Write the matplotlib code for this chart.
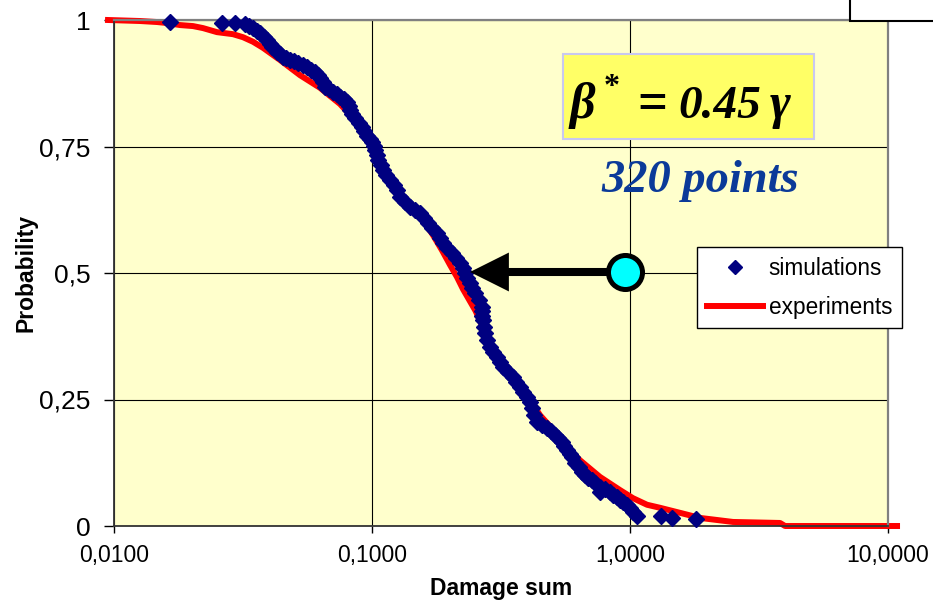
import matplotlib
matplotlib.use('Agg')
import matplotlib.pyplot as plt
from matplotlib.patches import Rectangle
from matplotlib.ticker import NullLocator

# simulated damage sums (sorted) and their exceedance probability
sim_x = [0.0165, 0.0262, 0.0294, 0.0322, 0.0334, 0.0346, 0.0357, 0.0368, 0.0380, 0.0392,
         0.0401, 0.0410, 0.0419, 0.0428, 0.0440, 0.0452, 0.0466, 0.0481, 0.0499, 0.0517,
         0.0538, 0.0560, 0.0580, 0.0601, 0.0615, 0.0629, 0.0643, 0.0657, 0.0681, 0.0706,
         0.0729, 0.0752, 0.0776, 0.0800, 0.0811, 0.0822, 0.0840, 0.0859, 0.0887, 0.0915,
         0.0935, 0.0956, 0.0978, 0.1000, 0.1014, 0.1027, 0.1041, 0.1055, 0.1079, 0.1103,
         0.1138, 0.1174, 0.1212, 0.1250, 0.1284, 0.1340, 0.1404, 0.1470, 0.1535, 0.1590,
         0.1648, 0.1715, 0.1786, 0.1835, 0.1884, 0.1960, 0.2042, 0.2115, 0.2193, 0.2245,
         0.2293, 0.2345, 0.2398, 0.2450, 0.2507, 0.2590, 0.2669, 0.2675, 0.2680, 0.2693,
         0.2715, 0.2742, 0.2800, 0.2867, 0.2955, 0.3051, 0.3130, 0.3220, 0.3370, 0.3520,
         0.3630, 0.3747, 0.3865, 0.3989, 0.4080, 0.4170, 0.4260, 0.4360, 0.4560, 0.4769,
         0.4940, 0.5122, 0.5280, 0.5450, 0.5570, 0.5700, 0.5830, 0.5959, 0.6121, 0.6320,
         0.6516, 0.6700, 0.6873, 0.7100, 0.7317, 0.7650, 0.7650, 0.8000, 0.8366, 0.8620,
         0.8904, 0.9150, 0.9395, 0.9700, 1.0000, 1.0300, 1.0640, 1.319, 1.455, 1.803]
sim_p = [0.996, 0.994, 0.994, 0.992, 0.988, 0.984, 0.979, 0.974, 0.967, 0.960,
         0.953, 0.947, 0.942, 0.937, 0.932, 0.927, 0.924, 0.921, 0.918, 0.915,
         0.911, 0.907, 0.902, 0.897, 0.891, 0.885, 0.877, 0.868, 0.863, 0.858,
         0.853, 0.848, 0.843, 0.838, 0.830, 0.822, 0.814, 0.806, 0.797, 0.789,
         0.781, 0.771, 0.765, 0.759, 0.751, 0.743, 0.733, 0.723, 0.713, 0.704,
         0.694, 0.684, 0.674, 0.664, 0.650, 0.640, 0.630, 0.625, 0.619, 0.609,
         0.599, 0.589, 0.579, 0.569, 0.559, 0.550, 0.540, 0.530, 0.520, 0.510,
         0.500, 0.490, 0.480, 0.470, 0.460, 0.447, 0.433, 0.424, 0.415, 0.407,
         0.394, 0.381, 0.367, 0.354, 0.344, 0.334, 0.324, 0.314, 0.304, 0.294,
         0.285, 0.275, 0.265, 0.255, 0.245, 0.233, 0.220, 0.206, 0.200, 0.194,
         0.187, 0.180, 0.173, 0.166, 0.158, 0.150, 0.143, 0.136, 0.125, 0.116,
         0.107, 0.101, 0.095, 0.090, 0.085, 0.077, 0.067, 0.073, 0.067, 0.062,
         0.057, 0.052, 0.047, 0.042, 0.036, 0.028, 0.020, 0.020, 0.016, 0.014]

# experimental curve
exp_x = [0.00948, 0.01262, 0.01468, 0.01605, 0.01803, 0.02024, 0.02213, 0.02507, 0.02891, 0.03162,
         0.03458, 0.03781, 0.04399, 0.05258, 0.06286, 0.07516, 0.0859, 0.0956, 0.1027, 0.1103,
         0.1195, 0.1342, 0.1535, 0.1723, 0.1867, 0.2006, 0.2135, 0.2253, 0.2520, 0.2720,
         0.2950, 0.322, 0.3583, 0.3989, 0.4479, 0.5122, 0.5751, 0.6398, 0.765, 0.9146,
         1.027, 1.164, 1.307, 1.563, 1.867, 2.507, 3.815, 3.99, 10.84]
exp_p = [1.0, 0.998, 0.996, 0.994, 0.990, 0.988, 0.984, 0.976, 0.972, 0.966,
         0.957, 0.945, 0.921, 0.891, 0.866, 0.834, 0.802, 0.769, 0.733, 0.708,
         0.680, 0.644, 0.613, 0.575, 0.545, 0.516, 0.492, 0.468, 0.425, 0.387,
         0.350, 0.324, 0.294, 0.259, 0.219, 0.186, 0.154, 0.130, 0.097, 0.071,
         0.055, 0.042, 0.036, 0.026, 0.016, 0.008, 0.006, 0.0, 0.0]

x_ticks = [0.01, 0.1, 1, 10]
x_tick_labels = ["0,0100", "0,1000", "1,0000", "10,0000"]
y_ticks = [0, 0.25, 0.5, 0.75, 1]
y_tick_labels = ["0", "0,25", "0,5", "0,75", "1"]

plt.rcParams['font.family'] = ['Liberation Sans', 'DejaVu Sans']

W, H = 933, 603


def fxy(px, py):
    # pixel position -> figure fraction
    return px / W, 1 - py / H


fig = plt.figure(figsize=(W / 100, H / 100), dpi=100)
ax = fig.add_axes([114 / W, 1 - 526 / H, (888 - 114) / W, (526 - 20) / H])
ax.set_facecolor('#FFFFCC')

ax.set_xscale('log')
ax.set_xlim(0.01, 10)
ax.set_ylim(0, 1)
ax.set_xticks(x_ticks, x_tick_labels)
ax.set_yticks(y_ticks, y_tick_labels)
ax.xaxis.set_minor_locator(NullLocator())
ax.tick_params(axis='x', labelsize=16.5, length=5, width=1, pad=8, direction='out')
ax.tick_params(axis='y', labelsize=19, length=7, width=1, pad=10, direction='out')
ax.grid(True, color='black', lw=0.8)
ax.set_axisbelow(True)

for side in ['top', 'right']:
    ax.spines[side].set_color('#808080')
    ax.spines[side].set_linewidth(1.6)
for side in ['left', 'bottom']:
    ax.spines[side].set_color('#333333')
    ax.spines[side].set_linewidth(1.3)

exp_line, = ax.plot(exp_x, exp_p, color='red', lw=4.3, label='experiments',
                    clip_on=False, zorder=2)
sim_pts, = ax.plot(sim_x, sim_p, ls='none', marker='D', ms=8.6, color='#000080',
                   label='simulations', clip_on=False, zorder=3)

ax.set_xlabel('Damage sum', fontsize=16.5, fontweight='bold', va='center')
ax.xaxis.set_label_coords(0.5, (526 - 589) / 506)
ax.set_ylabel('Probability', fontsize=16.5, fontweight='bold', va='center')
ax.yaxis.set_label_coords((26 - 114) / 774, 0.5)

leg = ax.legend([sim_pts, exp_line], ['simulations', 'experiments'],
                loc='upper left', bbox_to_anchor=fxy(697, 247),
                bbox_transform=fig.transFigure, borderaxespad=0,
                fontsize=16.3, handlelength=2.5, handletextpad=0.25,
                labelspacing=0.72, borderpad=0.42, fancybox=False,
                framealpha=1, edgecolor='black', markerscale=0.8)
leg.get_frame().set_linewidth(1)
leg.set_zorder(10)

# arrow from the circle to the curve at p = 0.5
ax.annotate('', xy=fxy(470, 272), xycoords='figure fraction',
            xytext=fxy(625, 272), textcoords='figure fraction',
            arrowprops=dict(width=5.8, headwidth=28, headlength=28, shrink=0,
                            facecolor='black', edgecolor='none'),
            zorder=6)
cx, cy = fxy(625, 272)
ax.plot([cx], [cy], marker='o', ms=24.5, mfc='#00FFFF', mec='black', mew=3.6,
        transform=fig.transFigure, clip_on=False, zorder=7)

# beta box
bx0, by0 = fxy(563, 139)
bx1, by1 = fxy(814, 54)
fig.add_artist(Rectangle((bx0, by0), bx1 - bx0, by1 - by0, transform=fig.transFigure,
                         facecolor='#FFFF66', edgecolor='#C8C8F0', lw=1.5))
serif = ['Liberation Serif', 'DejaVu Serif']
fig.text(*fxy(570, 118), 'β', fontsize=36, fontweight='bold', fontstyle='italic',
         family=serif, va='baseline', ha='left')
fig.text(*fxy(604, 95), '*', fontsize=23, fontweight='bold', family=serif,
         va='baseline', ha='left')
fig.text(*fxy(637, 118), '=', fontsize=38, fontweight='bold', family=serif,
         va='baseline', ha='left')
fig.text(*fxy(678, 118), '0.45', fontsize=34, fontweight='bold', fontstyle='italic',
         family=serif, va='baseline', ha='left')
fig.text(*fxy(770, 118), 'γ', fontsize=36, fontweight='bold', fontstyle='italic',
         family=serif, va='baseline', ha='left')

fig.text(*fxy(700, 192), '320 points', fontsize=33.5, fontweight='bold', fontstyle='italic',
         family=serif, color='#0B3A99', va='baseline', ha='center')

# cut-off box at the top right corner
rx, ry = fxy(850, 21)
fig.add_artist(Rectangle((rx, ry), 1, 1, transform=fig.transFigure,
                         facecolor='white', edgecolor='black', lw=1.5))

fig.savefig('out.png', dpi=100)
